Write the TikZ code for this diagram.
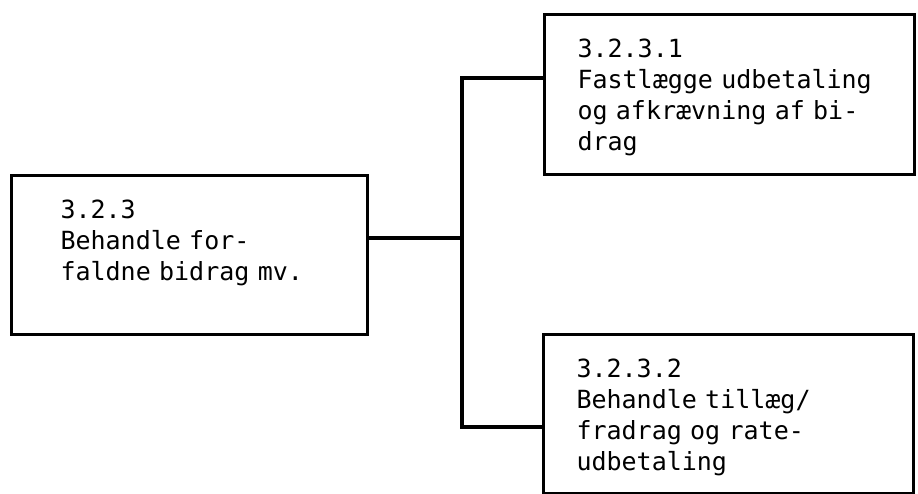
\documentclass[tikz,border=0pt]{standalone}
\usepackage{fontspec}
\newfontfamily\boxfont{DejaVu Sans Mono}
\tikzset{
  procbox/.style={draw, line width=3pt, anchor=north west, align=left,
    font=\boxfont\fontsize{25}{31}\selectfont, inner ysep=25pt,
    text height=18pt},
  link/.style={line width=3.5pt, line cap=rect}
}
\begin{document}
\begin{tikzpicture}[x=1pt,y=1pt]
	\useasboundingbox (0,0) rectangle (918,-493);
	\path(10,-174)  node[procbox, inner xsep=49pt, text width=258pt, text depth=91pt](B323) {3.2.3\\Behandle for-\\faldne bidrag mv.};
	\path(543,-13)  node[procbox, inner xsep=33pt, text width=304pt, text depth=92pt](B3231) {3.2.3.1\\Fastlægge udbetaling\\og afkrævning af bi-\\drag};
	\path(542,-333) node[procbox, inner xsep=33pt, text width=304pt, text depth=91pt](B3232) {3.2.3.2\\Behandle tillæg/\\fradrag og rate-\\udbetaling};
	\coordinate (J) at (462,-238);
	\coordinate (JT) at (462,-78);
	\coordinate (JB) at (462,-427);
	\draw[link] (B323.east |- J) -- (J);
	\draw[link] (JT) -- (JB);
	\draw[link] (JT) -- (B3231.west |- JT);
	\draw[link] (JB) -- (B3232.west |- JB);
\end{tikzpicture}
\end{document}
